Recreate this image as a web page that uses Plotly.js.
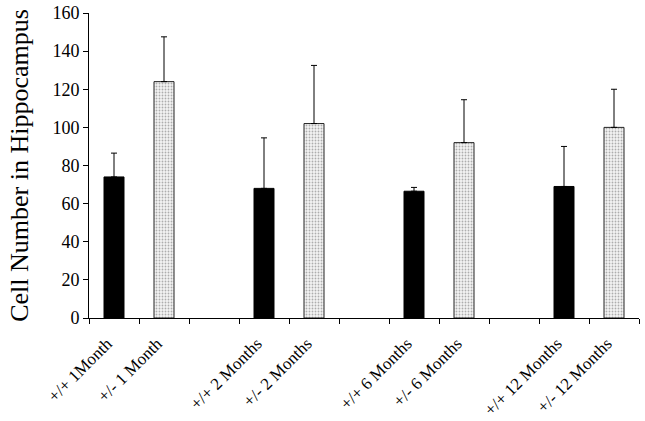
<!DOCTYPE html>
<html><head><meta charset="utf-8">
<script src="https://cdn.plot.ly/plotly-3.0.1.min.js"></script>
<style>html,body{margin:0;padding:0;background:#fff}</style>
</head><body><div id="chart" style="width:645px;height:421px"></div>
<script>
const categories = ["+/+ 1Month","+/- 1 Month"," ","+/+ 2 Months","+/- 2 Months","  ","+/+ 6 Months","+/- 6 Months","   ","+/+ 12 Months","+/- 12 Months"];
const wtLabels = ["+/+ 1Month","+/+ 2 Months","+/+ 6 Months","+/+ 12 Months"];
const wtValues = [74, 68, 66.5, 69];
const wtErrors = [12.5, 26.5, 2, 21];
const hetLabels = ["+/- 1 Month","+/- 2 Months","+/- 6 Months","+/- 12 Months"];
const hetValues = [124, 102, 92, 100];
const hetErrors = [23.5, 30.5, 22.5, 20];

const serif = "Liberation Serif, Times New Roman, serif";
const traces = [
  {type:'bar', x: wtLabels, y: wtValues, width:0.4,
   marker:{color:'#000', line:{color:'#000', width:1}},
   error_y:{type:'data', array: wtErrors, arrayminus: wtErrors.map(()=>0), symmetric:false, color:'#000', thickness:1, width:3}},
  {type:'bar', x: hetLabels, y: hetValues, width:0.4,
   marker:{color:'#ffffff', line:{color:'#222', width:1},
     pattern:{shape:'.', bgcolor:'#f4f4f4', fgcolor:'#666', size:3, solidity:0.3, fillmode:'overlay'}},
   error_y:{type:'data', array: hetErrors, arrayminus: hetErrors.map(()=>0), symmetric:false, color:'#000', thickness:1, width:3}}
];
const layout = {
  width:645, height:421, showlegend:false, barmode:'overlay',
  paper_bgcolor:'#fff', plot_bgcolor:'#fff',
  margin:{l:89, r:6, t:13, b:103},
  font:{family:serif, color:'#000'},
  xaxis:{type:'category', categoryorder:'array', categoryarray: categories, range:[-0.5,10.5],
    tickangle:-45, tickson:'boundaries', ticks:'outside', ticklen:5, tickcolor:'#000',
    ticklabelstandoff:8, ticklabelshift:-7,
    showline:true, linecolor:'#000', linewidth:1, showgrid:false, zeroline:false,
    tickfont:{family:serif, size:17, color:'#000'}},
  yaxis:{range:[0,160], dtick:20, ticks:'outside', ticklen:5, tickcolor:'#000',
    showline:true, linecolor:'#000', linewidth:1, showgrid:false, zeroline:false,
    tickfont:{family:serif, size:18, color:'#000'},
    title:{text:'Cell Number in Hippocampus', font:{family:serif, size:26, color:'#000'}, standoff:16}}
};
Plotly.newPlot('chart', traces, layout, {displayModeBar:false, staticPlot:true});
</script></body></html>
